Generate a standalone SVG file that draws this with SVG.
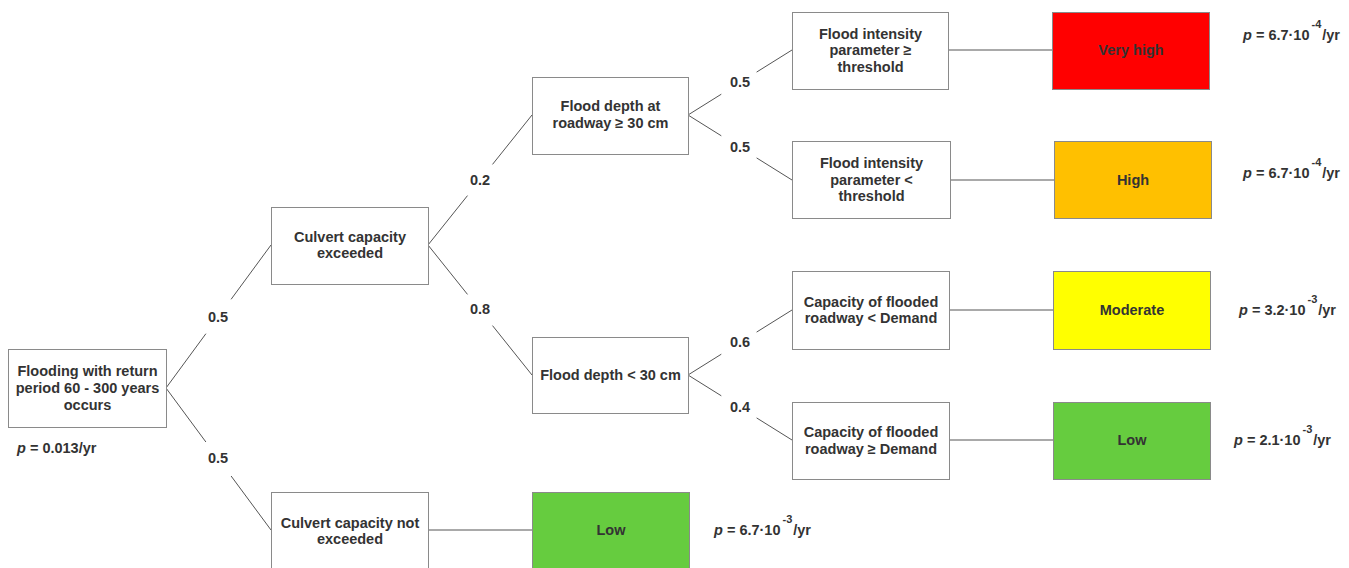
<svg xmlns="http://www.w3.org/2000/svg" width="1349" height="568" viewBox="0 0 1349 568">
<style>
.box{fill:#fff;stroke:#8a8a8a;stroke-width:1}
.t{font-family:"Liberation Sans",Arial,sans-serif;font-size:14.5px;font-weight:bold;fill:#333;text-anchor:middle}
.p{font-family:"Liberation Sans",Arial,sans-serif;font-size:14.5px;font-weight:bold;fill:#333}
.sup{font-size:11px}
.ln{fill:none;stroke:#555;stroke-width:1}
</style>
<rect width="1349" height="568" fill="#fff"/>
<g id="connectors">
<path class="ln" d="M166,388L205.9,333.7M231.1,299.3L271,245"/>
<path class="ln" d="M166,388L205.9,442M231.1,476L271,530"/>
<path class="ln" d="M428,245L467.5,195.6M492.5,164.4L532,115"/>
<path class="ln" d="M428,245L467.5,294.4M492.5,325.6L532,375"/>
<path class="ln" d="M688,115L721.3,94.2M756.6,72.1L792,50"/>
<path class="ln" d="M688,115L721.3,135.8M756.6,157.9L792,180"/>
<path class="ln" d="M688,375L721.3,354.2M756.6,332.1L792,310"/>
<path class="ln" d="M688,375L721.3,395.8M756.6,417.9L792,440"/>
<path class="ln" d="M948,50H1052M950,180H1054M949,310H1053M949,440H1053M428,530H532"/>
<text class="t" x="218" y="322">0.5</text>
<text class="t" x="218" y="463">0.5</text>
<text class="t" x="480" y="185">0.2</text>
<text class="t" x="480" y="314">0.8</text>
<text class="t" x="740" y="87">0.5</text>
<text class="t" x="740" y="152">0.5</text>
<text class="t" x="740" y="347">0.6</text>
<text class="t" x="740" y="412">0.4</text>
</g>
<g id="root">
<rect class="box" x="8.5" y="349.5" width="158" height="78"/>
<text class="t" x="87.5" y="376">Flooding with return</text>
<text class="t" x="87.5" y="393">period 60 - 300 years</text>
<text class="t" x="87.5" y="410">occurs</text>
<text class="p" x="17" y="453"><tspan font-style="italic">p</tspan> = 0.013/yr</text>
</g>
<g id="culvert-exceeded">
<rect class="box" x="271.5" y="207.5" width="157" height="77"/>
<text class="t" x="350" y="242">Culvert capacity</text>
<text class="t" x="350" y="258">exceeded</text>
</g>
<g id="culvert-not-exceeded">
<rect class="box" x="271.5" y="492.5" width="157" height="76"/>
<text class="t" x="350" y="528">Culvert capacity not</text>
<text class="t" x="350" y="544">exceeded</text>
</g>
<g id="low-bottom">
<rect class="box" x="532.5" y="492.5" width="157" height="76" style="fill:#66cc3f"/>
<text class="t" x="611" y="535">Low</text>
<text class="p" x="714" y="535"><tspan font-style="italic">p</tspan> = 6.7·10<tspan class="sup" dy="-12" dx="2">-3</tspan><tspan dy="12" dx="1">/yr</tspan></text>
</g>
<g id="depth-high">
<rect class="box" x="532.5" y="77.5" width="156" height="77"/>
<text class="t" x="610.5" y="111">Flood depth at</text>
<text class="t" x="610.5" y="128">roadway ≥ 30 cm</text>
</g>
<g id="depth-low">
<rect class="box" x="532.5" y="337.5" width="156" height="76"/>
<text class="t" x="610.5" y="380">Flood depth &lt; 30 cm</text>
</g>
<g id="fi-high">
<rect class="box" x="792.5" y="12.5" width="156" height="77"/>
<text class="t" x="870.5" y="39">Flood intensity</text>
<text class="t" x="870.5" y="55">parameter ≥</text>
<text class="t" x="870.5" y="72">threshold</text>
</g>
<g id="fi-low">
<rect class="box" x="792.5" y="141.5" width="158" height="77"/>
<text class="t" x="871.5" y="168">Flood intensity</text>
<text class="t" x="871.5" y="185">parameter &lt;</text>
<text class="t" x="871.5" y="201">threshold</text>
</g>
<g id="cap-low">
<rect class="box" x="792.5" y="271.5" width="157" height="78"/>
<text class="t" x="871" y="307">Capacity of flooded</text>
<text class="t" x="871" y="323">roadway &lt; Demand</text>
</g>
<g id="cap-high">
<rect class="box" x="792.5" y="402.5" width="157" height="77"/>
<text class="t" x="871" y="437">Capacity of flooded</text>
<text class="t" x="871" y="454">roadway ≥ Demand</text>
</g>
<g id="very-high">
<rect class="box" x="1052.5" y="12.5" width="157" height="77" style="fill:#ff0000"/>
<text class="t" x="1131" y="55">Very high</text>
<text class="p" x="1243" y="40"><tspan font-style="italic">p</tspan> = 6.7·10<tspan class="sup" dy="-12" dx="2">-4</tspan><tspan dy="12" dx="1">/yr</tspan></text>
</g>
<g id="high">
<rect class="box" x="1054.5" y="141.5" width="157" height="77" style="fill:#ffc000"/>
<text class="t" x="1133" y="185">High</text>
<text class="p" x="1243" y="178"><tspan font-style="italic">p</tspan> = 6.7·10<tspan class="sup" dy="-12" dx="2">-4</tspan><tspan dy="12" dx="1">/yr</tspan></text>
</g>
<g id="moderate">
<rect class="box" x="1053.5" y="271.5" width="157" height="78" style="fill:#ffff00"/>
<text class="t" x="1132" y="315">Moderate</text>
<text class="p" x="1239" y="315"><tspan font-style="italic">p</tspan> = 3.2·10<tspan class="sup" dy="-12" dx="2">-3</tspan><tspan dy="12" dx="1">/yr</tspan></text>
</g>
<g id="low">
<rect class="box" x="1053.5" y="402.5" width="157" height="77" style="fill:#66cc3f"/>
<text class="t" x="1132" y="445">Low</text>
<text class="p" x="1234" y="445"><tspan font-style="italic">p</tspan> = 2.1·10<tspan class="sup" dy="-12" dx="2">-3</tspan><tspan dy="12" dx="1">/yr</tspan></text>
</g>
</svg>
